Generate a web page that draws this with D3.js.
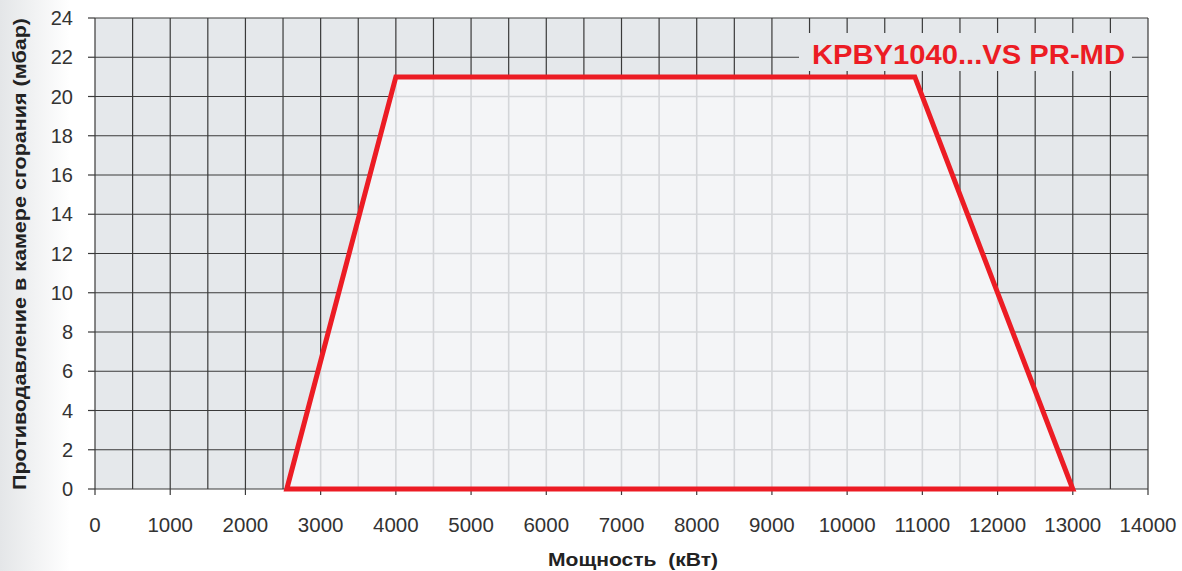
<!DOCTYPE html>
<html>
<head>
<meta charset="utf-8">
<script src="https://cdn.jsdelivr.net/npm/d3@7"></script>
<style>
  body { margin: 0; background: #fff; }
  svg { display: block; font-family: "Liberation Sans", Arial, sans-serif; }
</style>
</head>
<body>
<div id="chart"></div>
<script>
// Data
const X_TICKS = [0, 1000, 2000, 3000, 4000, 5000, 6000, 7000, 8000, 9000, 10000, 11000, 12000, 13000, 14000];
const Y_TICKS = [0, 2, 4, 6, 8, 10, 12, 14, 16, 18, 20, 22, 24];
const POWER = [2550, 4000, 10900, 13000];   // кВт
const PRESSURE = [0, 21, 21, 0];            // мбар
const SERIES_NAME = 'KPBY1040...VS PR-MD';
const X_TITLE = 'Мощность  (кВт)';
const Y_TITLE = 'Противодавление в камере сгорания (мбар)';

const WIDTH = 1182, HEIGHT = 571;
const MARGIN = { top: 18, right: 34, bottom: 82, left: 95 };

const svg = d3.select('#chart').append('svg')
    .attr('width', WIDTH)
    .attr('height', HEIGHT);

// faint grey fade on the left edge
const defs = svg.append('defs');
const grad = defs.append('linearGradient').attr('id', 'fade').attr('x1', 0).attr('x2', 1);
grad.append('stop').attr('offset', 0).attr('stop-color', '#e4e6e8');
grad.append('stop').attr('offset', 1).attr('stop-color', '#ffffff');
svg.append('rect').attr('width', 70).attr('height', HEIGHT).attr('fill', 'url(#fade)');

const x = d3.scaleLinear().domain([0, 14000]).range([MARGIN.left, WIDTH - MARGIN.right]);
const y = d3.scaleLinear().domain([0, 24]).range([HEIGHT - MARGIN.bottom, MARGIN.top]);

const pts = POWER.map((p, i) => [p, PRESSURE[i]]);
const area = d3.line().x(d => x(d[0])).y(d => y(d[1]));

const PLOT_BG = '#e5e8eb';

// Plot background
svg.append('rect')
    .attr('x', x(0)).attr('y', y(24))
    .attr('width', x(14000) - x(0)).attr('height', y(0) - y(24))
    .attr('fill', PLOT_BG);

const xMinor = d3.range(0, 14001, 500);

function drawGrid(g, color, w) {
    g.selectAll('.vx').data(xMinor).join('line')
        .attr('class', 'vx')
        .attr('x1', d => x(d)).attr('x2', d => x(d))
        .attr('y1', y(24)).attr('y2', y(0))
        .attr('stroke', color).attr('stroke-width', w);
    g.selectAll('.hy').data(Y_TICKS).join('line')
        .attr('class', 'hy')
        .attr('x1', x(0)).attr('x2', x(14000))
        .attr('y1', d => y(d)).attr('y2', d => y(d))
        .attr('stroke', color).attr('stroke-width', w);
}

drawGrid(svg.append('g'), '#3a3a3a', 1.2);

// Inside the envelope: light fill with light grid
defs.append('clipPath').attr('id', 'env')
    .append('path').attr('d', area(pts) + 'Z');

const inner = svg.append('g').attr('clip-path', 'url(#env)');
inner.append('rect')
    .attr('x', x(0)).attr('y', y(24))
    .attr('width', x(14000) - x(0)).attr('height', y(0) - y(24))
    .attr('fill', '#f4f5f7');
drawGrid(inner.append('g'), '#d4d6d9', 1.6);

// Axes ticks
const tickColor = '#3a3a3a';
svg.append('g').selectAll('line').data(Y_TICKS).join('line')
    .attr('x1', x(0) - 7).attr('x2', x(0))
    .attr('y1', d => y(d)).attr('y2', d => y(d))
    .attr('stroke', tickColor).attr('stroke-width', 1.2);
svg.append('g').selectAll('line').data(X_TICKS).join('line')
    .attr('x1', d => x(d)).attr('x2', d => x(d))
    .attr('y1', y(0)).attr('y2', y(0) + 6)
    .attr('stroke', tickColor).attr('stroke-width', 1.2);

// Tick labels
svg.append('g').selectAll('text').data(Y_TICKS).join('text')
    .attr('x', 73).attr('y', d => y(d))
    .attr('dy', '0.36em')
    .attr('text-anchor', 'end')
    .style('font-size', '20px').attr('fill', '#333')
    .text(d => d);
svg.append('g').selectAll('text').data(X_TICKS).join('text')
    .attr('x', d => x(d)).attr('y', 532)
    .attr('text-anchor', 'middle')
    .style('font-size', '20.5px').attr('fill', '#333')
    .text(d => d);

// Envelope outline
svg.append('path')
    .attr('d', area(pts) + 'Z')
    .attr('fill', 'none')
    .attr('stroke', '#ec1c24')
    .attr('stroke-width', 5)
    .attr('stroke-linejoin', 'miter');

// Series label with plot-coloured backing
svg.append('rect')
    .attr('x', 799).attr('y', 33).attr('width', 333).attr('height', 38)
    .attr('fill', PLOT_BG);
svg.append('text')
    .attr('x', 812).attr('y', 63.5)
    .attr('textLength', 313).attr('lengthAdjust', 'spacingAndGlyphs')
    .style('font-size', '28px').style('font-weight', 'bold')
    .attr('fill', '#ec1c24')
    .text(SERIES_NAME);

// Axis titles
svg.append('text')
    .attr('x', 548).attr('y', 566)
    .attr('textLength', 170).attr('lengthAdjust', 'spacingAndGlyphs')
    .style('font-size', '18px').style('font-weight', 'bold')
    .style('white-space', 'pre')
    .attr('fill', '#222')
    .text(X_TITLE);
svg.append('text')
    .attr('transform', `translate(26, 490) rotate(-90)`)
    .attr('textLength', 472).attr('lengthAdjust', 'spacingAndGlyphs')
    .style('font-size', '19px').style('font-weight', 'bold')
    .attr('fill', '#222')
    .text(Y_TITLE);
</script>
</body>
</html>
